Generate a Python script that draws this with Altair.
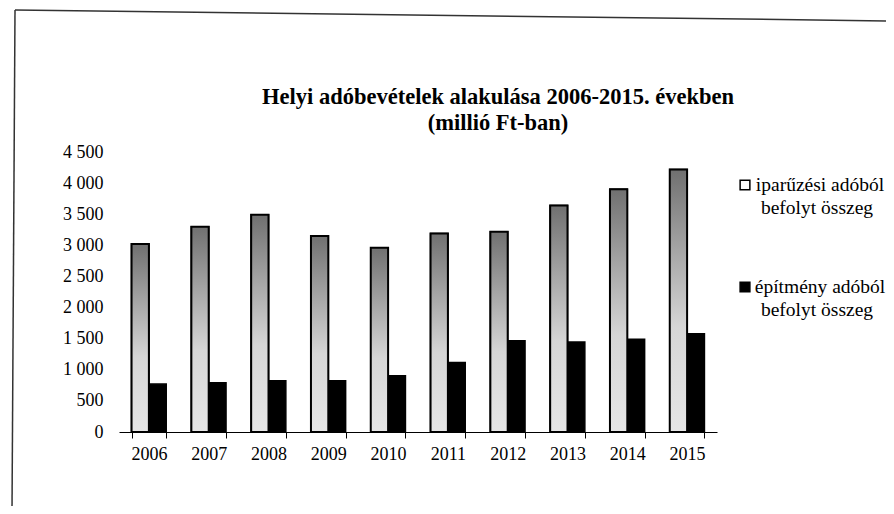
import altair as alt
import pandas as pd

years = ["2006", "2007", "2008", "2009", "2010", "2011", "2012", "2013", "2014", "2015"]
iparuzesi = [3020, 3300, 3490, 3150, 2960, 3190, 3220, 3640, 3900, 4220]
epitmeny = [770, 790, 825, 825, 905, 1115, 1465, 1445, 1490, 1580]
series = ["iparűzési adóból befolyt összeg", "építmény adóból befolyt összeg"]
legend_lines = [["iparűzési adóból", "befolyt összeg"], ["építmény adóból", "befolyt összeg"]]
series_colors = ["white", "black"]
y_ticks = [0, 500, 1000, 1500, 2000, 2500, 3000, 3500, 4000, 4500]
title_line1 = "Helyi adóbevételek alakulása 2006-2015. években"
title_line2 = "(millió Ft-ban)"

rows = []
for i, yr in enumerate(years):
    rows.append({"year": yr, "series": series[0], "value": iparuzesi[i]})
    rows.append({"year": yr, "series": series[1], "value": epitmeny[i]})
df = pd.DataFrame(rows)

FONT = "Liberation Serif"

x_enc = alt.X(
    "year:N",
    sort=years,
    scale=alt.Scale(paddingInner=0.42, paddingOuter=0.21),
    axis=alt.Axis(
        title=None, labelAngle=0, tickBand="extent", tickSize=6,
        tickColor="black", domainColor="black", domainWidth=1,
        labelPadding=7, grid=False,
    ),
)
xoff_enc = alt.XOffset("series:N", scale=alt.Scale(domain=series))
y_enc = alt.Y(
    "value:Q",
    scale=alt.Scale(domain=[0, 4500], nice=False),
    axis=alt.Axis(
        title=None, values=y_ticks, domain=False, ticks=False, grid=False,
        labelPadding=16,
        labelExpr="replace(format(datum.value, ','), ',', ' ')",
    ),
)

bars = alt.Chart(df).mark_bar(stroke="black", strokeWidth=1.5).encode(
    x=x_enc,
    xOffset=xoff_enc,
    y=y_enc,
    color=alt.Color(
        "series:N",
        scale=alt.Scale(domain=series, range=series_colors),
        legend=None,
    ),
)

gradient = {
    "gradient": "linear", "x1": 0, "y1": 0, "x2": 0, "y2": 1,
    "stops": [
        {"offset": 0, "color": "#707070"},
        {"offset": 0.3, "color": "#a4a4a4"},
        {"offset": 0.6, "color": "#d6d6d6"},
        {"offset": 1, "color": "#e6e6e6"},
    ],
}
texture = alt.Chart(df).transform_filter(
    alt.datum.series == series[0]
).mark_bar(fill=gradient, stroke="black", strokeWidth=2).encode(
    x=x_enc, xOffset=xoff_enc, y=y_enc,
)

one = pd.DataFrame({"k": [0]})
left_line = alt.Chart(one).mark_rule(color="#333333", strokeWidth=1.5).encode(
    x=alt.value(-104), x2=alt.value(-107), y=alt.value(-142), y2=alt.value(360)
)
top_line = alt.Chart(one).mark_rule(color="#333333", strokeWidth=1.5).encode(
    x=alt.value(-104), x2=alt.value(775), y=alt.value(-142), y2=alt.value(-131)
)

def text_layer(txt, x, y, size, weight="normal"):
    return alt.Chart(one).mark_text(
        text=txt, font=FONT, fontSize=size, fontWeight=weight, color="black",
        align="center", baseline="middle",
    ).encode(x=alt.value(x), y=alt.value(y))

title1 = text_layer(title_line1, 379, -55, 22.5, "bold")
title2 = text_layer(title_line2, 379, -29, 22.5, "bold")

legend_layers = []
entry_y = [33, 135]
for i in range(2):
    legend_layers.append(
        alt.Chart(one).mark_point(
            shape="square", filled=True, size=95, fill=series_colors[i],
            stroke="black", strokeWidth=1.5, opacity=1,
        ).encode(x=alt.value(626), y=alt.value(entry_y[i]))
    )
    legend_layers.append(text_layer(legend_lines[i][0], 701, entry_y[i], 19.5))
    legend_layers.append(text_layer(legend_lines[i][1], 698, entry_y[i] + 23, 19.5))

chart = alt.layer(
    left_line, top_line, title1, title2, bars, texture, *legend_layers
).properties(
    width=598,
    height=280,
    autosize=alt.AutoSizeParams(type="none"),
    padding={"left": 111, "top": 144, "right": 169, "bottom": 74},
).configure_view(strokeWidth=0).configure_axis(
    labelFont=FONT, labelFontSize=18, labelColor="black"
)

chart.save("out.html", embed_options={"renderer": "svg", "actions": False})
